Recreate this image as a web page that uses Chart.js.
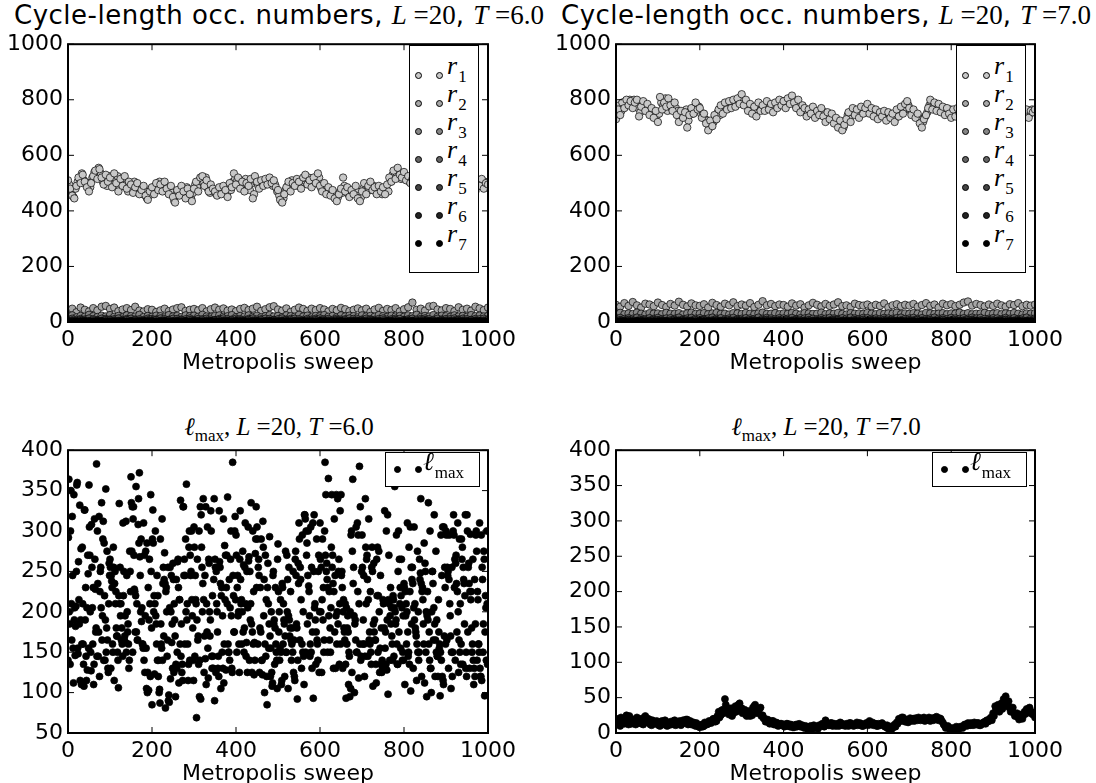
<!DOCTYPE html>
<html>
<head>
<meta charset="utf-8">
<script src="https://cdn.jsdelivr.net/npm/chart.js@4.4.0/dist/chart.umd.min.js"></script>
<style>
  body { margin: 0; width: 1096px; height: 783px; background: #fff; position: relative; overflow: hidden; font-family: 'DejaVu Sans', sans-serif; }
  canvas { position: absolute; }
  .title { position: absolute; width: 700px; text-align: center; font-size: 26px; line-height: 30px; letter-spacing: 0.5px; white-space: nowrap; color: #000; }
  .m { font-family: 'Liberation Serif', serif; font-size: 27px; letter-spacing: 0; }
  .sub .m { font-size: 25px; }
  .legend { position: absolute; box-sizing: border-box; border: 1.5px solid #000; background: #fff; }
  .mk { position: absolute; width: 5px; height: 5px; border-radius: 50%; border: 0.7px solid #000; }
  .lt { position: absolute; font-family: 'Liberation Serif', serif; font-size: 26px; line-height: 30px; white-space: nowrap; }
  .lt .s { font-size: 17px; font-style: normal; position: relative; top: 8px; margin-left: 1px; }
</style>
</head>
<body>
<div class="title" style="left:-71px;top:0px">Cycle-length occ. numbers, <span class="m"><i>L</i> =20</span>, <span class="m"><i>T</i> =6.0</span></div>
<div class="title" style="left:476px;top:0px">Cycle-length occ. numbers, <span class="m"><i>L</i> =20</span>, <span class="m"><i>T</i> =7.0</span></div>
<div class="title sub" style="left:-71px;top:411px"><span class="m"><i>ℓ</i><span style="font-size:17px;position:relative;top:6px">max</span>, <i>L</i> =20, <i>T</i> =6.0</span></div>
<div class="title sub" style="left:476px;top:411px"><span class="m"><i>ℓ</i><span style="font-size:17px;position:relative;top:6px">max</span>, <i>L</i> =20, <i>T</i> =7.0</span></div>
<script>
// ---- data ----
const rLabels = ['1', '2', '3', '4', '5', '6', '7'];
const rColors = ['#c8c8c8', '#a6a6a6', '#858585', '#646464', '#434343', '#222222', '#000000'];

// T = 6.0, r1 at sweeps 0,5,10,... and 3,8,13,...
const r1T6 = [510,480,455,445,490,520,500,530,505,485,
  470,500,525,545,515,550,520,495,530,505,
  520,485,535,500,470,515,490,525,480,505,
  495,465,485,500,460,475,490,455,440,470,
  485,460,500,475,495,470,505,480,460,490,
  450,430,475,455,490,470,445,480,460,435,
  480,505,470,520,525,490,510,470,495,480,
  470,455,485,460,490,475,450,500,485,535,
  495,520,480,505,470,500,490,515,445,525,
  505,480,510,490,515,495,520,500,510,485,
  475,440,430,460,485,505,470,500,490,515,
  505,480,520,530,495,510,485,520,500,535,
  490,470,500,460,485,455,475,445,435,460,
  480,520,470,485,450,475,460,490,445,435,
  470,500,460,490,505,475,485,460,490,470,
  485,460,495,520,505,545,515,555,530,520,
  540,510,525,500,515,495,520,505,490,510,
  500,525,485,510,495,515,480,505,520,495,
  510,485,500,520,490,505,475,500,515,490,
  505,480,515,495,470,500,490,515,480,500,
  495];
const r1T6b = [495,465,450,480,505,515,535,510,495,500,
  485,520,540,530,555,535,505,515,490,525,
  505,500,515,525,485,500,510,495,470,490,
  480,505,470,490,480,460,470,445,455,480,
  470,490,485,505,480,495,485,470,475,465,
  435,460,465,480,470,460,485,450,445,465,
  495,490,510,505,500,520,480,465,475,470,
  460,470,470,475,480,460,490,475,505,515,
  510,500,490,495,515,480,475,500,460,505,
  490,500,495,505,500,510,505,490,495,470,
  455,435,445,475,490,480,510,495,500,490,
  490,505,510,515,520,500,495,505,515,520,
  480,485,475,470,465,470,460,455,450,470,
  465,490,480,460,470,465,480,470,455,450,
  480,475,490,475,485,490,470,475,480,460,
  470,480,470,505,530,525,535,540,515,535,
  525,520,505,520,505,510,500,515,500,495,
  510,495,515,495,505,490,510,495,505,510,
  495,505,510,500,505,490,495,510,500,480,
  490,505,495,510,485,510,500,495,505,485];
// r2..r7 every 10 sweeps
const r2T6 = [40,48,35,52,44,38,50,42,55,58,47,52,39,45,50,43,55,41,38,46,
  44,36,42,48,39,45,50,53,40,44,47,42,50,38,46,52,44,49,41,45,
  39,47,51,43,48,55,40,46,53,57,45,41,49,36,44,52,47,40,48,43,
  50,45,38,47,42,51,46,39,44,49,42,48,36,45,51,40,47,43,50,38,
  46,53,70,44,48,41,56,58,45,42,50,47,39,53,44,48,41,55,49,43,52];
const r3T6 = [20,24,17,22,19,26,21,18,23,20,25,19,22,17,24,21,20,26,18,22,
  19,23,21,17,25,20,22,18,24,21,23,19,26,20,17,22,24,19,21,25,
  18,22,20,24,19,23,17,21,25,20,22,18,24,21,19,26,20,23,17,22,
  21,25,19,22,18,24,20,23,21,17,24,20,22,19,25,21,18,23,20,22,
  19,24,21,26,18,22,20,25,19,23,21,18,24,20,22,19,25,21,23,20,22];
const r4T6 = [10,12,8,11,9,13,10,7,12,11,9,10,13,8,11,12,9,10,7,12,
  11,9,13,10,8,12,11,9,10,13,8,11,10,12,9,7,11,13,10,9,
  12,10,8,11,13,9,10,12,11,8,10,13,9,11,12,10,8,11,9,12,
  13,10,11,8,12,9,10,13,11,10,9,12,10,8,11,13,9,10,12,11,
  8,10,12,9,11,13,10,8,12,9,11,10,13,9,12,10,8,11,10,12,9];
const r5T6 = [5,6,4,7,5,3,6,5,4,7,6,5,3,5,7,4,6,5,4,6,
  5,7,4,5,6,3,5,6,4,7,5,4,6,5,3,6,7,5,4,6,
  5,6,4,7,5,4,6,3,5,6,4,5,7,6,4,5,3,6,5,7,
  4,6,5,4,7,5,6,3,5,4,6,5,7,4,5,6,4,5,7,3,
  5,6,4,5,6,7,4,5,3,6,5,4,6,7,5,4,6,5,3,5,6];
const r6T6 = [2,3,1,2,3,2,1,3,2,2,1,2,3,2,1,3,2,2,1,3,
  2,1,2,3,2,1,3,2,2,1,3,2,1,2,3,2,2,1,3,2,
  2,3,1,2,2,3,1,2,3,2,1,2,3,1,2,2,3,2,1,2,
  3,2,2,1,3,2,1,2,3,2,2,1,3,2,2,1,2,3,2,1,
  2,3,2,1,2,3,2,2,1,3,2,1,2,3,2,2,1,3,2,2,1];
const r7T6 = [1,0,1,2,1,0,1,1,2,0,1,1,0,2,1,1,0,1,2,1,
  0,1,1,2,0,1,1,0,2,1,1,0,1,1,2,0,1,2,1,0,
  1,1,2,0,1,1,0,1,2,1,0,2,1,1,0,1,2,1,1,0,
  1,2,0,1,1,2,1,0,1,1,2,1,0,1,1,0,2,1,1,0,
  1,1,2,0,1,2,1,0,1,1,0,1,2,1,1,0,1,1,2,0,1];

// T = 7.0
const r1T7 = [730,765,745,790,770,800,780,795,770,790,
  800,740,775,795,760,785,745,770,735,760,
  720,810,765,790,775,805,780,760,790,745,
  720,760,735,755,700,745,770,750,790,765,
  770,735,750,715,690,725,705,745,730,765,
  780,750,790,765,795,770,800,775,805,785,
  820,780,800,760,785,750,775,740,790,760,
  780,760,795,765,785,755,790,770,800,780,
  795,770,805,785,815,790,770,800,755,780,
  770,740,765,750,775,735,760,745,770,740,
  720,755,730,750,715,735,700,725,690,710,
  730,755,720,770,745,765,735,775,750,770,
  785,750,770,740,765,730,755,740,760,725,
  755,735,750,720,765,740,775,750,785,795,
  770,745,765,735,750,715,700,730,745,770,
  800,765,790,760,785,755,775,745,770,750,
  735,765,740,770,750,775,745,765,755,770,
  760,745,775,750,770,740,765,780,750,760,
  770,745,765,750,775,740,760,770,745,765,
  750,775,740,760,770,745,765,735,760,755,
  765];
const r1T7b = [745,780,760,775,795,785,800,780,800,775,
  770,755,790,780,775,765,760,750,755,745,
  750,790,780,805,760,790,770,780,770,760,
  740,740,750,765,725,760,750,775,780,775,
  750,750,730,725,700,715,720,730,755,745,
  765,770,775,780,785,780,790,790,795,810,
  800,790,780,775,765,770,755,765,770,775,
  765,780,780,775,770,770,775,785,790,795,
  780,785,790,800,800,780,785,765,770,765,
  755,755,750,765,760,750,745,760,750,755,
  735,740,745,735,730,720,715,710,700,720,
  745,740,755,755,760,750,755,765,765,755,
  770,765,755,755,750,745,745,750,745,740,
  745,745,740,735,750,755,760,765,770,780,
  760,755,750,745,735,725,720,740,755,780,
  785,780,775,775,770,770,760,760,755,765,
  755,750,755,760,760,760,755,750,765,760,
  750,760,760,765,755,755,770,765,755,770,
  760,755,750,760,760,755,765,755,760,755,
  765,760,755,750,760,755,750,750,765,760];
const r2T7 = [62,55,68,58,72,60,52,66,63,57,70,61,54,65,59,73,62,56,67,60,
  58,64,52,69,61,55,66,60,71,57,63,59,68,54,62,75,60,65,57,63,
  61,55,67,59,64,52,60,69,62,56,65,58,63,71,57,60,54,66,61,59,
  63,56,62,58,67,53,60,64,57,62,59,65,55,61,68,58,63,52,66,60,
  64,57,62,70,74,59,65,61,56,63,58,66,60,55,64,61,68,57,62,59,63];
const r3T7 = [30,33,28,31,29,34,30,27,32,30,31,28,33,30,29,32,27,31,34,29,
  30,32,28,31,33,29,30,27,32,31,29,33,30,28,31,34,29,30,32,28,
  31,29,33,30,27,32,31,29,30,34,28,31,30,33,29,27,32,30,31,29,
  33,30,28,32,29,31,30,34,28,31,29,32,30,27,33,31,29,30,32,28,
  31,30,34,29,32,28,30,31,33,29,30,32,28,31,29,33,30,27,31,30,32];
const r4T7 = [13,15,11,14,12,16,13,10,14,12,15,11,13,14,12,16,10,13,15,12,
  14,11,13,16,12,14,10,13,15,11,12,14,13,11,16,12,15,13,10,14,
  13,12,15,11,14,13,16,12,10,14,12,15,13,11,14,12,16,13,11,15,
  14,12,13,10,15,13,12,14,16,11,13,15,12,14,11,13,16,12,14,10,
  15,13,11,14,12,16,13,15,11,12,14,13,10,15,12,14,11,13,16,12,13];
const r5T7 = [6,7,5,8,6,4,7,6,5,8,7,6,4,6,8,5,7,6,5,7,
  6,8,5,6,7,4,6,7,5,8,6,5,7,6,4,7,8,6,5,7,
  6,7,5,8,6,5,7,4,6,7,5,6,8,7,5,6,4,7,6,8,
  5,7,6,5,8,6,7,4,6,5,7,6,8,5,6,7,5,6,8,4,
  6,7,5,6,7,8,5,6,4,7,6,5,7,8,6,5,7,6,4,6,7];
const r6T7 = [3,2,4,3,2,3,4,2,3,3,2,4,3,2,3,4,3,2,3,2,
  4,3,2,3,4,2,3,3,2,4,3,2,3,4,2,3,3,2,4,3,
  2,3,4,3,2,3,2,4,3,3,2,3,4,2,3,3,2,4,3,2,
  3,4,3,2,3,2,4,3,3,2,3,3,2,4,3,2,3,4,2,3,
  4,2,3,3,2,4,3,2,3,3,2,4,3,2,3,3,4,2,3,2,3];
const r7T7 = [1,2,1,0,1,2,1,1,0,1,2,1,1,0,2,1,1,2,1,0,
  1,1,2,1,0,1,2,1,1,1,0,2,1,1,2,1,0,1,1,2,
  1,0,1,2,1,1,1,0,2,1,1,2,0,1,1,2,1,1,0,1,
  2,1,1,0,1,2,1,1,2,0,1,1,0,2,1,1,2,1,0,1,
  1,2,1,1,0,1,2,1,1,1,0,1,2,1,1,0,2,1,1,2,1];

// l_max, T = 6.0: even sweeps and odd sweeps (25 per 50-sweep window)
const lmaxT6 = [
  140,364,185,300,210,318,155,345,205,182,250,360,148,215,332,190,110,280,160,108,326,230,115,128,247,
  357,270,150,308,205,230,135,265,175,383,300,145,318,225,255,335,195,312,285,140,352,180,165,125,260,
  265,130,238,160,280,115,250,225,170,150,106,334,255,210,180,145,220,165,195,312,245,175,160,140,250,
  367,275,150,330,228,175,355,210,165,340,372,245,290,205,160,310,270,195,155,285,125,103,265,120,250,
  85,326,200,123,300,185,245,220,140,104,290,160,315,235,170,273,81,230,145,255,97,205,117,245,185,
  260,125,190,95,240,150,265,112,215,338,185,135,330,245,160,290,358,210,115,280,140,245,300,195,140,
  305,145,215,69,265,170,300,140,92,280,200,340,125,245,330,210,305,118,260,170,325,145,220,130,340,
  265,125,210,175,145,325,255,105,230,195,315,160,215,128,270,342,150,240,205,300,130,385,220,175,318,
  295,150,245,200,125,325,210,160,275,258,180,310,145,250,205,263,140,190,335,125,300,225,162,272,330,
  305,160,265,125,230,290,140,312,195,100,270,215,85,260,155,293,120,200,108,245,185,135,230,150,105,
  284,175,140,215,110,235,160,190,120,275,150,200,105,255,170,225,140,180,250,165,115,275,185,92,260,
  310,165,240,130,295,200,110,320,150,270,185,300,225,145,305,255,175,93,320,210,135,290,160,250,125,
  310,200,125,290,230,165,385,345,260,150,365,225,180,205,345,270,130,315,245,195,160,340,250,135,325,
  345,250,130,215,175,210,93,160,195,110,145,200,295,125,364,255,100,190,305,150,225,118,380,330,145,
  295,160,245,120,340,210,270,145,315,175,225,135,280,108,260,190,165,112,220,150,275,125,245,180,140,
  215,130,325,175,300,190,98,270,140,230,205,160,220,145,355,185,295,135,250,175,210,155,265,140,195,
  235,110,195,160,310,145,280,225,102,185,255,130,305,210,175,115,275,200,150,240,340,120,230,185,285,
  260,150,95,225,335,175,300,130,200,250,165,320,120,275,190,145,215,155,96,295,245,305,110,170,230,
  300,165,245,130,295,195,105,255,150,320,230,140,270,175,310,125,290,210,160,265,135,240,185,320,150,
  320,175,260,130,296,225,150,265,110,240,185,300,140,215,160,310,120,295,255,150,275,96,220,140,210];
const lmaxT6odd = [
  292,200,135,350,165,245,112,190,146,207,357,155,262,185,115,278,160,210,135,326,190,145,205,270,155,
  305,200,127,255,160,110,315,228,180,145,235,175,120,250,205,165,290,140,220,190,150,275,130,210,245,
  255,245,230,150,255,235,210,180,170,140,220,210,195,165,160,310,250,170,162,150,200,185,130,275,225,
  335,330,315,270,225,220,175,165,308,285,268,200,188,160,155,140,125,275,105,100,230,190,210,345,180,
  290,285,220,210,195,160,140,120,100,87,185,155,140,255,240,235,225,200,165,90,88,255,200,162,130,
  240,210,170,135,130,262,230,215,160,145,125,115,330,265,245,200,190,160,135,300,270,250,215,180,115,
  280,245,210,190,165,135,95,330,320,255,235,215,170,142,110,175,155,265,200,190,300,130,145,240,90,
  255,250,200,130,120,262,235,220,150,130,112,282,270,230,210,160,150,140,265,195,125,245,175,300,215,
  270,230,195,160,265,240,215,200,175,150,255,210,162,125,305,268,250,210,185,175,160,122,140,290,230,
  290,255,245,180,175,140,122,280,240,160,145,120,230,210,185,170,155,125,112,250,190,180,160,140,265,
  225,200,155,150,115,230,210,185,170,150,270,240,195,190,180,165,160,150,125,120,265,245,180,140,235,
  290,255,215,160,150,145,320,315,300,285,245,232,195,160,150,130,310,250,205,190,175,165,140,270,200,
  265,255,215,190,150,300,270,250,240,230,195,165,150,280,255,235,225,175,130,345,200,185,265,210,160,
  245,230,200,180,165,135,205,180,175,150,95,105,300,275,235,195,185,165,150,310,295,210,160,140,250,
  255,190,160,145,280,265,240,215,165,160,150,255,250,185,175,165,135,265,280,220,200,155,135,125,130,
  210,180,155,135,128,320,215,210,195,185,170,140,215,205,200,190,160,135,300,265,230,220,205,150,140,
  230,225,210,200,175,150,135,305,255,240,235,205,190,180,170,160,150,140,265,248,235,225,215,160,112,
  250,200,195,190,160,140,130,100,250,235,205,185,165,150,145,120,175,160,150,140,120,115,305,255,160,
  295,255,250,240,210,170,150,120,300,295,265,260,235,225,200,165,150,135,290,280,255,235,220,130,120,
  300,255,235,225,215,180,160,140,130,120,295,275,225,160,150,130,120,115,240,185,265,175,205,300,135];

// l_max, T = 7.0, at sweeps 0,5,10,... and 2,7,12,...
const lmaxT7 = [15,20,10,18,13,25,12,20,15,17,
  22,14,18,12,24,15,19,11,16,13,
  14,10,17,12,15,11,16,13,18,12,
  14,11,18,16,19,13,12,15,10,11,
  8,12,10,14,13,16,18,20,17,30,
  25,33,48,30,26,35,28,38,32,42,
  35,30,26,28,24,25,38,33,30,36,
  25,20,18,15,14,17,12,14,11,13,
  12,10,13,9,11,8,12,10,9,11,
  7,9,5,10,6,8,9,11,10,12,
  18,13,11,14,12,10,13,15,11,12,
  13,10,14,12,11,15,12,13,10,12,
  14,17,12,11,13,10,12,14,11,8,
  6,9,7,12,15,20,17,22,16,18,
  19,17,20,21,18,20,19,22,18,20,
  17,21,19,23,18,20,15,10,8,7,
  5,4,6,8,7,9,10,12,14,11,
  13,15,12,14,11,13,16,18,17,22,
  28,38,35,30,42,48,52,40,35,32,
  28,24,22,26,20,30,34,32,28,26,
  22];
const lmaxT7b = [18,12,22,14,20,16,24,13,19,12,
  17,20,13,22,16,20,12,18,14,17,
  11,16,13,18,10,14,12,17,11,15,
  17,13,14,19,12,17,15,11,14,9,
  11,9,15,12,17,14,20,16,24,22,
  32,28,40,35,30,24,34,30,40,36,
  28,33,24,31,27,36,40,28,34,24,
  21,16,19,13,17,12,15,10,13,11,
  9,13,10,12,8,11,9,13,11,8,
  10,6,9,7,11,9,6,10,13,9,
  15,11,14,10,13,12,10,14,12,10,
  11,14,12,10,13,11,14,10,12,14,
  11,13,15,13,10,13,11,12,9,11,
  8,5,10,9,13,17,22,18,19,15,
  21,20,17,19,22,18,21,17,20,22,
  20,18,22,19,21,17,12,7,10,5,
  7,6,9,5,9,7,12,10,11,14,
  11,12,14,11,13,15,13,16,20,18,
  24,33,40,36,34,44,38,45,30,36,
  24,28,19,23,25,27,31,36,30,28];

const xTicksStep = 200;

// ---- chart helpers ----
Chart.defaults.font.family = 'DejaVu Sans';
Chart.defaults.font.size = 22;
Chart.defaults.color = '#000';
Chart.defaults.animation = false;

const pts = (start, step, vals) => vals.map((v, i) => ({ x: start + i * step, y: v }));

const frame = {
  id: 'frame',
  afterDatasetsDraw(chart) {
    const { ctx, chartArea: a, scales: { x, y } } = chart;
    ctx.save();
    ctx.strokeStyle = '#000';
    ctx.lineWidth = 1;
    ctx.beginPath();
    x.ticks.forEach(t => {
      const px = x.getPixelForValue(t.value);
      ctx.moveTo(px, a.bottom); ctx.lineTo(px, a.bottom - 6);
      ctx.moveTo(px, a.top); ctx.lineTo(px, a.top + 6);
    });
    y.ticks.forEach(t => {
      const py = y.getPixelForValue(t.value);
      ctx.moveTo(a.left, py); ctx.lineTo(a.left + 6, py);
      ctx.moveTo(a.right, py); ctx.lineTo(a.right - 6, py);
    });
    ctx.stroke();
    ctx.lineWidth = 2;
    ctx.strokeRect(a.left, a.top, a.right - a.left, a.bottom - a.top);
    ctx.restore();
  }
};

function makeChart(g, datasets, ymin, ymax, ystep) {
  const cv = document.createElement('canvas');
  const yw = 62, padTop = 14, padRight = 32, xh = 58;
  cv.width = yw + g.w + padRight;
  cv.height = padTop + g.h + xh;
  cv.style.left = (g.left - yw) + 'px';
  cv.style.top = (g.top - padTop) + 'px';
  document.body.appendChild(cv);
  new Chart(cv, {
    type: 'scatter',
    data: { datasets },
    options: {
      responsive: false,
      devicePixelRatio: 1,
      events: [],
      layout: { padding: { top: padTop, right: padRight, left: 0, bottom: 0 } },
      plugins: { legend: { display: false }, tooltip: { enabled: false } },
      scales: {
        x: {
          type: 'linear', min: 0, max: 1000,
          ticks: { stepSize: xTicksStep, padding: 5, maxRotation: 0, format: { useGrouping: false } },
          grid: { display: false, drawTicks: false },
          border: { display: false },
          title: { display: true, text: 'Metropolis sweep', padding: { top: 4, bottom: 4 } },
          afterFit: s => { s.height = xh; }
        },
        y: {
          min: ymin, max: ymax,
          ticks: { stepSize: ystep, padding: 5, format: { useGrouping: false } },
          grid: { display: false, drawTicks: false },
          border: { display: false },
          afterFit: s => { s.width = yw; }
        }
      }
    },
    plugins: [frame]
  });
}

function scatterSet(label, data, color, order, radius) {
  return {
    label, data,
    pointRadius: radius,
    pointBorderWidth: 0.7,
    pointBorderColor: '#000',
    pointBackgroundColor: color,
    order,
    clip: 0
  };
}

function rSets(r1, r1b, rest) {
  const sets = [
    scatterSet('r1', pts(0, 5, r1), rColors[0], 6, 3.7),
    scatterSet('r1', pts(3, 5, r1b), rColors[0], 6, 3.7)
  ];
  rest.forEach((vals, i) => {
    sets.push(scatterSet('r' + rLabels[i + 1], pts(0, 10, vals), rColors[i + 1], 5 - i, 3.7));
  });
  return sets;
}

makeChart({ left: 68, top: 40, w: 421, h: 282 },
  rSets(r1T6, r1T6b, [r2T6, r3T6, r4T6, r5T6, r6T6, r7T6]), 0, 1000, 200);
makeChart({ left: 616, top: 40, w: 420, h: 282 },
  rSets(r1T7, r1T7b, [r2T7, r3T7, r4T7, r5T7, r6T7, r7T7]), 0, 1000, 200);
makeChart({ left: 68, top: 446, w: 421, h: 287 }, [
  scatterSet('lmax', pts(0, 2, lmaxT6), '#000', 0, 3.5),
  scatterSet('lmax', pts(1, 2, lmaxT6odd), '#000', 0, 3.5)
], 50, 400, 50);
makeChart({ left: 616, top: 446, w: 420, h: 287 }, [
  scatterSet('lmax', pts(0, 5, lmaxT7), '#000', 0, 3.5),
  scatterSet('lmax', pts(2, 5, lmaxT7b), '#000', 0, 3.5)
], 0, 400, 50);

// ---- legends (html overlays) ----
function marker(box, cx, cy, color) {
  const m = document.createElement('div');
  m.className = 'mk';
  m.style.left = (cx - 3.2) + 'px';
  m.style.top = (cy - 3.2) + 'px';
  m.style.background = color;
  box.appendChild(m);
}

function rLegend(left, top) {
  const box = document.createElement('div');
  box.className = 'legend';
  Object.assign(box.style, { left: left + 'px', top: top + 'px', width: '70px', height: '228px' });
  rLabels.forEach((lab, i) => {
    const cy = 29 + 28 * i;
    marker(box, 8, cy, rColors[i]);
    marker(box, 29, cy, rColors[i]);
    const t = document.createElement('div');
    t.className = 'lt';
    t.style.left = '37px';
    t.style.top = (cy - 24) + 'px';
    t.innerHTML = '<i>r</i><span class="s">' + lab + '</span>';
    box.appendChild(t);
  });
  document.body.appendChild(box);
}

function lLegend(left, top) {
  const box = document.createElement('div');
  box.className = 'legend';
  Object.assign(box.style, { left: left + 'px', top: top + 'px', width: '95px', height: '35px' });
  marker(box, 11, 16, '#000');
  marker(box, 32, 16, '#000');
  const t = document.createElement('div');
  t.className = 'lt';
  t.style.left = '37px';
  t.style.top = '-6px';
  t.innerHTML = '<i>ℓ</i><span class="s">max</span>';
  box.appendChild(t);
  document.body.appendChild(box);
}

rLegend(409, 45);
rLegend(956, 45);
lLegend(385, 452);
lLegend(932, 452);
</script>
</body>
</html>
